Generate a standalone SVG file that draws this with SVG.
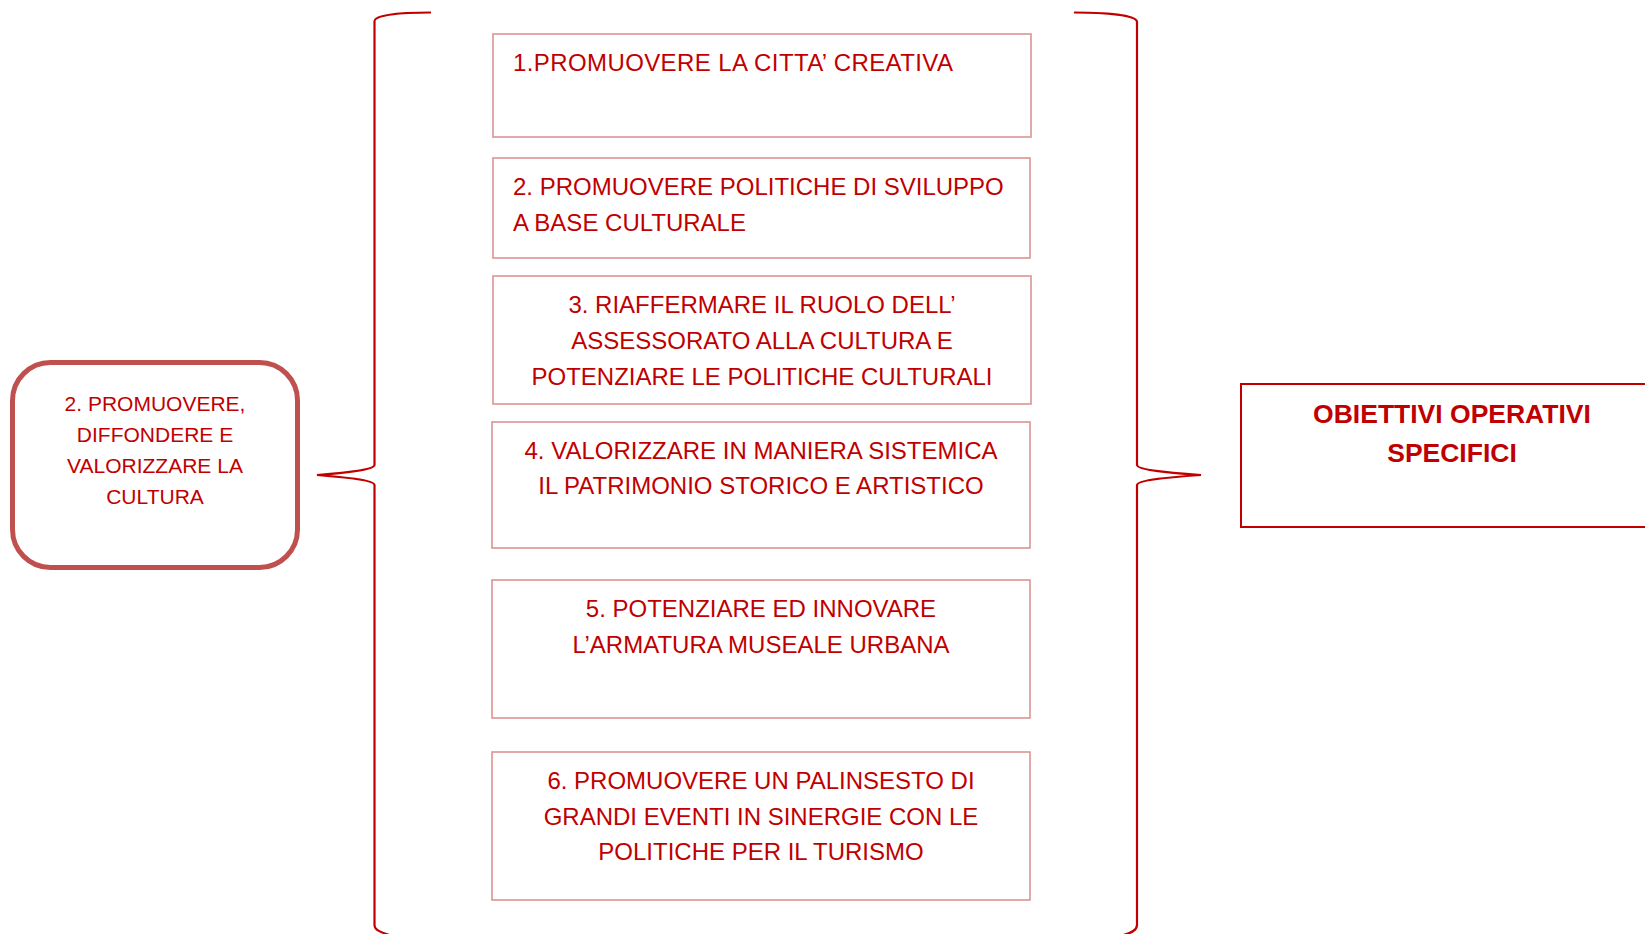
<svg xmlns="http://www.w3.org/2000/svg" width="1645" height="934" viewBox="0 0 1645 934">
<style>
.t{font-family:"Liberation Sans",Arial,sans-serif;fill:#c00000;font-size:24px}
.s{font-size:21px}
.b{font-weight:bold;font-size:26.5px}
.box{fill:#fff;stroke:#da9593;stroke-width:1.6}
.br{fill:none;stroke:#c00000;stroke-width:2.2}
</style>
<rect width="1645" height="934" fill="#fff"/>
<g id="connectors">
<path class="br" d="M431 12.5 C400 12.5 375 15 374.5 21 L374.5 465 C374.5 470 342 473 317 475 C342 477 374.5 480 374.5 485 L374.5 925 C374.5 930 380 932 392 936"/>
<path class="br" d="M1074 12.5 C1105 12.5 1137 15 1137 22 L1137 465 C1137 470 1172 473 1201 475 C1172 477 1137 480 1137 485 L1137 925 C1137 930 1132 933 1120 936"/>
</g>
<g id="source">
<rect x="12.5" y="362.5" width="285" height="205" rx="38" fill="#fff" stroke="#c0504d" stroke-width="5"/>
<text class="t s" text-anchor="middle"><tspan x="155" y="411">2. PROMUOVERE,</tspan><tspan x="155" y="442">DIFFONDERE E</tspan><tspan x="155" y="473">VALORIZZARE LA</tspan><tspan x="155" y="504">CULTURA</tspan></text>
</g>
<g id="obj1">
<rect class="box" x="493" y="34" width="538" height="103"/>
<text class="t" x="513" y="71" textLength="440" lengthAdjust="spacing">1.PROMUOVERE LA CITTA’ CREATIVA</text>
</g>
<g id="obj2">
<rect class="box" x="493" y="158" width="537" height="100"/>
<text class="t"><tspan x="513" y="195">2. PROMUOVERE POLITICHE DI SVILUPPO</tspan><tspan x="513" y="231">A BASE CULTURALE</tspan></text>
</g>
<g id="obj3">
<rect class="box" x="493" y="276" width="538" height="128"/>
<text class="t" text-anchor="middle"><tspan x="762" y="313">3. RIAFFERMARE IL RUOLO DELL’</tspan><tspan x="762" y="349">ASSESSORATO ALLA CULTURA E</tspan><tspan x="762" y="385">POTENZIARE LE POLITICHE CULTURALI</tspan></text>
</g>
<g id="obj4">
<rect class="box" x="492" y="422" width="538" height="126"/>
<text class="t" text-anchor="middle"><tspan x="761" y="459">4. VALORIZZARE IN MANIERA SISTEMICA</tspan><tspan x="761" y="494">IL PATRIMONIO STORICO E ARTISTICO</tspan></text>
</g>
<g id="obj5">
<rect class="box" x="492" y="580" width="538" height="138"/>
<text class="t" text-anchor="middle"><tspan x="761" y="617">5. POTENZIARE ED INNOVARE</tspan><tspan x="761" y="653">L’ARMATURA MUSEALE URBANA</tspan></text>
</g>
<g id="obj6">
<rect class="box" x="492" y="752" width="538" height="148"/>
<text class="t" text-anchor="middle"><tspan x="761" y="789">6. PROMUOVERE UN PALINSESTO DI</tspan><tspan x="761" y="825">GRANDI EVENTI IN SINERGIE CON LE</tspan><tspan x="761" y="860">POLITICHE PER IL TURISMO</tspan></text>
</g>
<g id="target">
<rect x="1241" y="384" width="420" height="143" fill="#fff" stroke="#c00000" stroke-width="2"/>
<text class="t b" text-anchor="middle"><tspan x="1452" y="423">OBIETTIVI OPERATIVI</tspan><tspan x="1452" y="462">SPECIFICI</tspan></text>
</g>
</svg>
